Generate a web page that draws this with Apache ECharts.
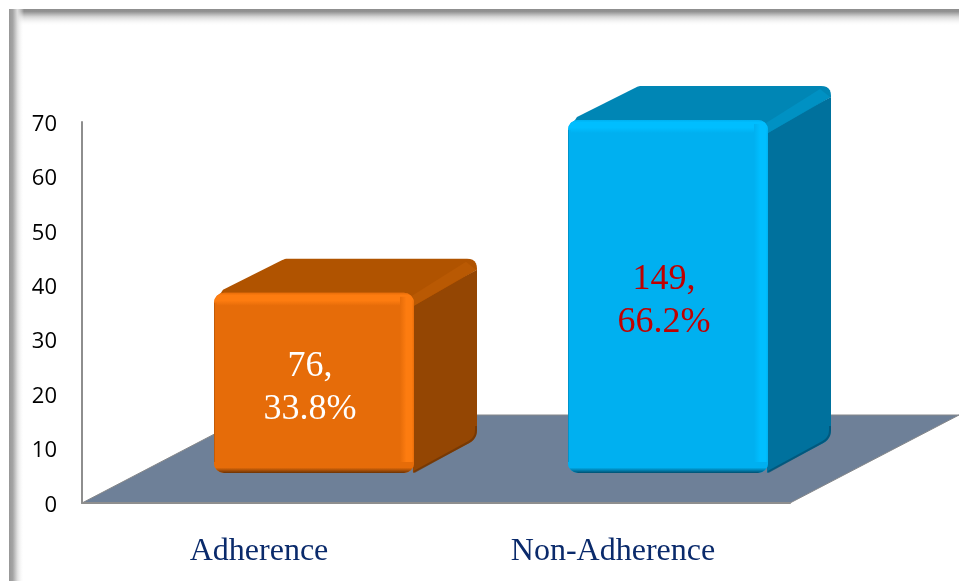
<!DOCTYPE html>
<html>
<head>
<meta charset="utf-8">
<style>html,body{margin:0;padding:0;background:#fff;overflow:hidden}#c{width:959px;height:581px}</style>
<script src="https://cdn.jsdelivr.net/npm/echarts@6/dist/echarts.min.js"></script>
</head>
<body>
<div id="c"></div>
<script>
const categories = ['Adherence', 'Non-Adherence'];
const percents = [33.8, 66.2];
const counts = [76, 149];
const yTicks = [0, 10, 20, 30, 40, 50, 60, 70];
const palettes = [
  {front:'#E66C09', hi:'#FD7C10', top:'#B05300', strip:'#B95903', side:'#944603', dark:'#6B3305', text:'#FFFFFF'},
  {front:'#00B0F0', hi:'#00BEFF', top:'#0086B5', strip:'#0091C3', side:'#00719D', dark:'#004F70', text:'#C00000'}
];

const DX = 63, DY = 33, FLOOR_DX = 169, FLOOR_DY = 88, LIFT = 30, SHIFT = 55, SCALE = 0.98;

function roundPoly(pts, radii) {
  const out = [], n = pts.length;
  for (let i = 0; i < n; i++) {
    const p = pts[i], r = radii[i];
    if (!r) { out.push(p); continue; }
    const a = pts[(i + n - 1) % n], b = pts[(i + 1) % n];
    const la = Math.hypot(a[0]-p[0], a[1]-p[1]), lb = Math.hypot(b[0]-p[0], b[1]-p[1]);
    const s = [p[0] + (a[0]-p[0]) * r / la, p[1] + (a[1]-p[1]) * r / la];
    const e = [p[0] + (b[0]-p[0]) * r / lb, p[1] + (b[1]-p[1]) * r / lb];
    for (let k = 0; k <= 6; k++) {
      const t = k / 6, u = 1 - t;
      out.push([u*u*s[0] + 2*u*t*p[0] + t*t*e[0], u*u*s[1] + 2*u*t*p[1] + t*t*e[1]]);
    }
  }
  return out;
}
function lin(vertical, stops) {
  return {type:'linear', x:0, y:0, x2:vertical?0:1, y2:vertical?1:0,
    colorStops: stops.map(s => ({offset:s[0], color:s[1]}))};
}

function renderFloor(params, api) {
  const g = params.coordSys, y0 = g.y + g.height, x0 = g.x, x1 = g.x + g.width;
  return {type:'polygon', silent:true, z2:0,
    shape:{points:[[x0,y0],[x1,y0],[x1+FLOOR_DX,y0-FLOOR_DY],[x0+FLOOR_DX,y0-FLOOR_DY]]},
    style:{fill:'#6E8098', stroke:'#85878A', lineWidth:1}};
}

function renderBar(params, api) {
  const i = api.value(0), v = api.value(1), c = palettes[i];
  const zero = api.coord([i, 0]), topPt = api.coord([i, v]);
  const fw = Math.round(api.size([1, 0])[0] * 0.565);
  const fh = (zero[1] - topPt[1]) * SCALE;
  const x = zero[0] + SHIFT - fw / 2, bottom = zero[1] - LIFT, y = bottom - fh, r = x + fw;
  const kids = [];
  // side face
  kids.push({type:'polygon', shape:{points:roundPoly(
    [[r-4,y+12],[r+DX,y-DY+10],[r+DX,bottom-DY-1],[r-1,bottom]],[0,0,9,0])},
    style:{fill:c.side}});
  kids.push({type:'polyline', shape:{points:roundPoly(
    [[r,bottom-1],[r+DX-1,bottom-DY-2],[r+DX-1,bottom-DY-14]],[0,8,0])},
    style:{fill:'none', stroke:c.dark, lineWidth:2, opacity:0.7}});
  // top face
  kids.push({type:'polygon', shape:{points:roundPoly(
    [[x+5,y+3],[x+9,y-3],[x+71,y-DY-1],[r+DX,y-DY-1],[r+DX,y-DY+10],[r,y+13]],[0,0,3,10,0,0])},
    style:{fill:c.top}});
  kids.push({type:'polygon', shape:{points:
    [[r-2,y+3],[r+DX-11,y-DY+2],[r+DX-1,y-DY+10],[r,y+13]]},
    style:{fill:c.strip}});
  // front face
  kids.push({type:'rect', shape:{x:x, y:y, width:fw, height:fh, r:10}, style:{fill:c.front}});
  kids.push({type:'rect', shape:{x:x, y:y, width:fw, height:13, r:[10,10,0,0]},
    style:{fill:lin(true,[[0,c.front],[0.2,c.hi],[0.6,c.hi],[1,c.front]])}});
  kids.push({type:'rect', shape:{x:r-14, y:y+4, width:14, height:fh-8, r:[0,8,8,0]},
    style:{fill:lin(false,[[0,c.front],[0.45,c.hi],[0.85,c.hi],[1,c.front]])}});
  kids.push({type:'rect', shape:{x:x, y:y+10, width:3, height:fh-20},
    style:{fill:lin(false,[[0,c.dark],[0.4,c.front],[1,c.front]]), opacity:0.5}});
  kids.push({type:'rect', shape:{x:x, y:bottom-11, width:fw, height:11, r:[0,0,10,10]},
    style:{fill:lin(true,[[0,c.front],[0.5,c.front],[1,c.dark]])}});
  kids.push({type:'text', style:{
    text: api.value(2) + ',\n' + v + '%',
    x: x + fw / 2 - 4, y: y + fh / 2 + 5,
    align:'center', verticalAlign:'middle',
    font:'36px "Liberation Serif"', lineHeight:43, fill:c.text}});
  return {type:'group', children:kids};
}

const chart = echarts.init(document.getElementById('c'), null, {renderer:'canvas'});
chart.setOption({
  animation:false,
  backgroundColor:'#fff',
  grid:{left:82, right:169, top:122, bottom:78, containLabel:false},
  xAxis:{type:'category', data:categories,
    axisTick:{show:false},
    axisLine:{lineStyle:{color:'#8E8E8E', width:2}},
    axisLabel:{fontFamily:'Liberation Serif', fontSize:32, color:'#0A2A6B', margin:33},
    splitLine:{show:false}, z:5},
  yAxis:{type:'value', min:yTicks[0], max:yTicks[yTicks.length-1], interval:yTicks[1]-yTicks[0],
    axisLine:{show:true, lineStyle:{color:'#8E8E8E', width:2}},
    axisTick:{show:false}, splitLine:{show:false},
    axisLabel:{fontFamily:'Open Sans', fontSize:22, color:'#000', margin:25, verticalAlign:'top', lineHeight:5}, z:5},
  series:[
    {type:'custom', name:'floor', silent:true, clip:false, z:1, renderItem:renderFloor,
     data:[[0,0]], encode:{x:0,y:1}},
    {type:'custom', name:'bars', silent:true, clip:false, z:2, renderItem:renderBar,
     data:percents.map((p,i)=>[i,p,counts[i]]), encode:{x:0,y:1}}
  ],
  graphic:[
    {type:'rect', z:100, silent:true, shape:{x:9,y:9,width:950,height:17},
     style:{fill:lin(true,[[0,'#8E8E8E'],[0.15,'#929292'],[0.45,'#D4D4D4'],[1,'rgba(255,255,255,0)']])}},
    {type:'rect', z:101, silent:true, shape:{x:9,y:9,width:15,height:572},
     style:{fill:lin(false,[[0,'#989898'],[0.25,'#A4A4A4'],[0.55,'#DEDEDE'],[1,'rgba(255,255,255,0)']])}}
  ]
});
</script>
</body>
</html>
